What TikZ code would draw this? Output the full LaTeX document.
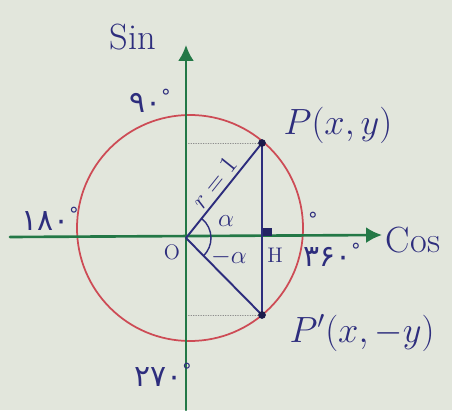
\documentclass[tikz,border=0pt]{standalone}
\usepackage{fontspec}
\newfontfamily\fafont{DejaVu Sans}
\usetikzlibrary{arrows.meta}
\definecolor{paper}{RGB}{226,230,220}
\definecolor{axisgreen}{RGB}{35,120,70}
\definecolor{circred}{RGB}{205,75,85}
\definecolor{ink}{RGB}{45,45,125}
\newcommand{\dg}{\raisebox{.55ex}{\fontsize{11}{12}\selectfont °}}

\begin{document}
\begin{tikzpicture}[line cap=round,line join=round,>=Latex,font=\huge,
    deg/.style={ink,font=\fontsize{17}{19}\fafont}]
  \fill[paper] (-3.72,-3.44) rectangle (5.32,4.76);
  \useasboundingbox (-3.72,-3.44) rectangle (5.32,4.76);

  \coordinate (O) at (0,0);
  \coordinate (C) at (0.08,0.2);
  \coordinate (P) at (1.52,1.90);
  \coordinate (Q) at (1.52,-1.54);
  \coordinate (H) at (1.52,0);
  \coordinate (Py) at (0,1.90);
  \coordinate (Qy) at (0,-1.54);
  \coordinate (Xl) at (-3.52,0.02);
  \coordinate (Xr) at (3.92,0.06);
  \coordinate (Yb) at (0,-3.44);
  \coordinate (Yt) at (0,3.86);

  \draw[circred,line width=1pt] (C) circle (2.26);
  \draw[black!45,densely dotted] (Py) -- (P) (Qy) -- (Q);
  \draw[axisgreen,line width=1.5pt,-{Latex[length=9pt,width=9pt]}] (Xl) -- (Xr);
  \draw[axisgreen,line width=1.5pt,-{Latex[length=9pt,width=9pt]}] (Yb) -- (Yt);

  \draw[ink,line width=1.1pt] (O) -- (P)
    node[pos=.5,above=1pt,sloped,font=\Large,inner sep=1pt] {$r=1$};
  \draw[ink,line width=1.1pt] (O) -- (Q);
  \draw[ink,line width=1.1pt] (P) -- (Q);
  \draw[ink,thick] (0.5,0) arc (0:51:0.5);
  \draw[ink,thick] (0.5,0) arc (0:-45:0.5);
  \fill[ink!80!black] (1.54,0.04) rectangle ++(0.17,0.17);
  \fill[ink!60!black] (P) circle (2.2pt) (Q) circle (2.2pt);

  % labels
  \node[ink,font=\Large] at (0.8,0.34) {$\alpha$};
  \node[ink,font=\Large] at (0.86,-0.38) {$-\alpha$};
  \node[ink,font=\large] at (-0.28,-0.28) {O};
  \node[ink,font=\large] at (1.78,-0.34) {H};
  \node[ink] at (3.04,2.26) {$P(x,y)$};
  \node[ink] at (3.52,-1.9) {$P'(x,-y)$};
  \node[ink] at (-1.06,4.02) {Sin};
  \node[ink] at (4.54,-0.04) {Cos};

  \node[deg] at (-0.72,2.74) {۹۰\dg};
  \node[deg] at (-2.72,0.38) {۱۸۰\dg};
  \node[deg] at (2.92,-0.34) {۳۶۰\dg};
  \node[deg] at (2.54,0.28) {\dg};
  \node[deg] at (-0.46,-2.74) {۲۷۰\dg};
\end{tikzpicture}
\end{document}
